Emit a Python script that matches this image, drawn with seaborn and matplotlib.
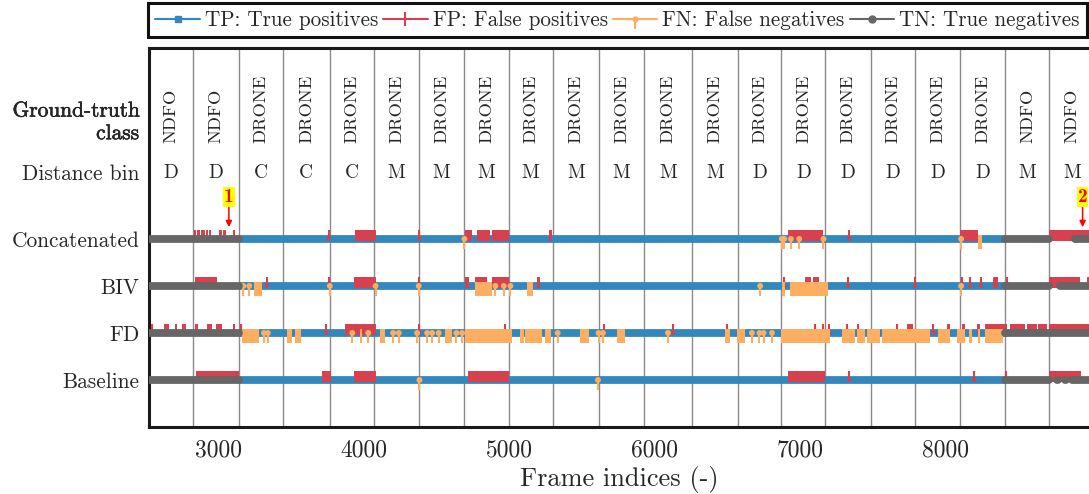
import matplotlib
matplotlib.use("Agg")
import matplotlib.pyplot as plt
import matplotlib.patheffects as pe
from matplotlib.lines import Line2D
from matplotlib.path import Path
import numpy as np
import pandas as pd
import seaborn as sns

# ---------------- data (frame indices) ----------------
SECTION_EDGES = [2525, 2830, 3143, 3445, 3768, 4070, 4379, 4693, 4997, 5299, 5618,
                 5929, 6259, 6570, 6872, 7174, 7486, 7790, 8099, 8411, 8713, 9025]
CLASSES = ["NDFO", "NDFO"] + ["DRONE"] * 17 + ["NDFO", "NDFO"]
BINS = ["D", "D", "C", "C", "C", "M", "M", "M", "M", "M", "M", "M", "M",
        "D", "D", "D", "D", "D", "D", "M", "M"]

ROW_NAMES = ["Concatenated", "BIV", "FD", "Baseline"]
ROW_POS = [4, 3, 2, 1]

X_TICKS = [3000, 4000, 5000, 6000, 7000, 8000]
X_LIMITS = [2525, 8986]

# true negatives (grey line segments)
concat_tn = [(2525, 3143), (8411, 8713), (8890, 9025)]
biv_tn = [(2525, 3143), (8411, 8713), (8787, 9025)]
fd_tn = [(2525, 3143), (8411, 9025)]
base_tn = [(2525, 3143), (8411, 8713), (8766, 8770), (8822, 8826), (8869, 9025)]

# false positives
concat_fp = [(2834, 2845), (2857, 2873), (2880, 2909), (2914, 2933), (2937, 2948),
             (3006, 3024), (3033, 3052), (3109, 3109), (3761, 3761), (3940, 4082),
             (4384, 4384), (4700, 4746), (4780, 4872), (4883, 4997), (5272, 5295),
             (6916, 7161), (7339, 7339), (8100, 8226), (8713, 8901), (8905, 8986)]
biv_fp = [(2841, 2995), (3333, 3333), (3761, 3761), (3933, 4082), (4379, 4379),
          (4700, 4722), (4769, 4849), (4883, 4997), (5192, 5215), (6893, 6893),
          (7035, 7074), (7088, 7131), (7329, 7329), (7790, 7790), (8112, 8112),
          (8169, 8169), (8242, 8242), (8328, 8363), (8420, 8420), (8713, 8924),
          (8970, 8986)]
fd_fp = [(2548, 2548), (2628, 2662), (2703, 2720), (2754, 2782), (2841, 2862),
         (2926, 2960), (2983, 3029), (3109, 3109), (3155, 3155), (3745, 3745),
         (3871, 4082), (4384, 4384), (4975, 4975), (5654, 5654), (6124, 6124),
         (6497, 6497), (7106, 7106), (7157, 7157), (7202, 7202), (7326, 7326),
         (7401, 7401), (7665, 7665), (7733, 7779), (7917, 7917), (8008, 8031),
         (8112, 8135), (8215, 8237), (8271, 8420), (8443, 8546), (8558, 8626),
         (8637, 8695), (8713, 8986)]
base_fp = [(2845, 3143), (3716, 3773), (3933, 4082), (4718, 4997), (6916, 7168),
           (7339, 7339), (8198, 8198), (8415, 8415), (8713, 8930)]

# false negatives
concat_fn = [(4693, 4693), (6875, 6875), (6891, 6891), (6937, 6937), (6994, 6994),
             (7161, 7161), (8107, 8107), (8226, 8250)]
biv_fn = [(3173, 3173), (3214, 3214), (3246, 3299), (3768, 3768), (4082, 4082),
          (4379, 4379), (4769, 4883), (4906, 4906), (4963, 4963), (5009, 5009),
          (5124, 5165), (6726, 6726), (6875, 6898), (6932, 7195), (8107, 8107)]
fd_fn = [(3161, 3280), (3315, 3315), (3342, 3342), (3475, 3510), (3527, 3567),
         (3922, 3922), (3972, 3990), (4032, 4032), (4116, 4150), (4203, 4203),
         (4242, 4242), (4368, 4368), (4437, 4437), (4471, 4471), (4516, 4516),
         (4562, 4609), (4638, 4638), (4677, 4677), (4700, 5021), (5078, 5100),
         (5112, 5227), (5249, 5288), (5334, 5334), (5485, 5547), (5615, 5615),
         (5645, 5645), (5742, 5799), (6092, 6092), (6486, 6520), (6566, 6623),
         (6669, 6669), (6721, 6721), (6749, 6749), (6807, 6807), (6868, 7207),
         (7287, 7379), (7390, 7448), (7459, 7549), (7562, 7894), (7950, 8031),
         (8077, 8135), (8158, 8181), (8226, 8237), (8271, 8397)]
base_fn = [(4384, 4384), (5611, 5611)]

ANNOT_LABELS = ["1", "2"]
ANNOT_FRAMES = [3074, 8942]

# ---------------- style ----------------
BLUE = "#3288bd"
RED = "#d6404f"
ORANGE = "#fdae61"
GREY = "#666666"

sns.set_theme(style="white")
plt.rcParams["font.family"] = ["cmr10", "DejaVu Serif"]
plt.rcParams["mathtext.fontset"] = "cm"
plt.rcParams["axes.formatter.use_mathtext"] = True
plt.rcParams["axes.unicode_minus"] = False

W, H = 1089, 494
fig = plt.figure(figsize=(W / 100, H / 100), dpi=100)
ax = fig.add_axes([149 / W, 67 / H, (W - 149) / W, (446 - 67) / H])
YTOP = 8.06

# section separators
ax.vlines(SECTION_EDGES[1:-1], 0, YTOP, colors="#8a8a8a", lw=1.0, zorder=1)

tn_rows = [concat_tn, biv_tn, fd_tn, base_tn]
fp_rows = [concat_fp, biv_fp, fd_fp, base_fp]
fn_rows = [concat_fn, biv_fn, fd_fn, base_fn]

LW = 5.6


def seg_df(segs, y, tag):
    recs = []
    for i, (a, b) in enumerate(segs):
        recs.append({"frame": a, "y": y, "seg": f"{tag}{y}_{i}"})
        recs.append({"frame": b, "y": y, "seg": f"{tag}{y}_{i}"})
    return pd.DataFrame(recs)


# true positive lines over DRONE sections
tp_segs = [(SECTION_EDGES[i], SECTION_EDGES[i + 1]) for i, c in enumerate(CLASSES) if c == "DRONE"]
tp_df = pd.concat([seg_df(tp_segs, y, "tp") for y in ROW_POS], ignore_index=True)
sns.lineplot(data=tp_df, x="frame", y="y", units="seg", estimator=None, sort=False,
             color=BLUE, lw=LW, solid_capstyle="butt", ax=ax, zorder=2, legend=False)

# true negative lines
tn_df = pd.concat([seg_df(s, y, "tn") for s, y in zip(tn_rows, ROW_POS)], ignore_index=True)
sns.lineplot(data=tn_df, x="frame", y="y", units="seg", estimator=None, sort=False,
             color=GREY, lw=LW, solid_capstyle="round", ax=ax, zorder=4, legend=False)


def split(intervals):
    singles = [a for a, b in intervals if b - a < 5]
    blocks = [(a, b) for a, b in intervals if b - a >= 5]
    return singles, blocks


for y, fps, fns in zip(ROW_POS, fp_rows, fn_rows):
    s, bl = split(fps)
    if bl:
        ax.bar(x=[a for a, b in bl], height=0.25, width=[b - a for a, b in bl],
               bottom=y - 0.05, align="edge", color=RED, linewidth=0, zorder=3)
    if s:
        ax.vlines(s, y, y + 0.2, colors=RED, lw=1.5, zorder=3)
        sns.scatterplot(x=s, y=[y] * len(s), s=9, color=RED, edgecolor="none",
                        ax=ax, zorder=3, legend=False)
    s, bl = split(fns)
    if bl:
        ax.bar(x=[a for a, b in bl], height=0.295, width=[b - a for a, b in bl],
               bottom=y - 0.21, align="edge", color=ORANGE, linewidth=0, zorder=3.5)
    if s:
        ax.vlines(s, y - 0.21, y, colors=ORANGE, lw=1.5, zorder=3.5)
        sns.scatterplot(x=s, y=[y] * len(s), s=18, color=ORANGE, edgecolor="none",
                        ax=ax, zorder=3.6, legend=False)

# header rows: class and distance bin
for i, (cls, b) in enumerate(zip(CLASSES, BINS)):
    mid = 0.5 * (SECTION_EDGES[i] + SECTION_EDGES[i + 1])
    ax.text(mid, 6.05, cls, rotation=90, ha="center", va="bottom", fontsize=13.3, zorder=5)
    ax.text(mid, 5.41, b, ha="center", va="center", fontsize=14, zorder=5)

# annotations
for lab, fr in zip(ANNOT_LABELS, ANNOT_FRAMES):
    ax.annotate(lab, xy=(fr, 4.25), xytext=(fr, 4.9), ha="center", va="center",
                color="red", fontsize=14, fontfamily="cmb10",
                arrowprops=dict(arrowstyle="-|>", color="red", lw=1.1, mutation_scale=9,
                                shrinkA=0, shrinkB=0),
                bbox=dict(boxstyle="square,pad=0.05", fc="yellow", ec="none"),
                zorder=6, annotation_clip=False)

# axes
ax.set_xlim(*X_LIMITS)
ax.set_ylim(0, YTOP)
ax.set_xticks(X_TICKS)
ax.set_xticklabels([str(t) for t in X_TICKS], fontsize=17)
ax.set_yticks([6.56, 5.41] + ROW_POS)
ylabels = ax.set_yticklabels(["Ground-truth\nclass", "Distance bin"] + ROW_NAMES, fontsize=15.4)
ylabels[0].set_path_effects([pe.withStroke(linewidth=0.35, foreground="black")])
ax.tick_params(axis="both", length=0)
ax.tick_params(axis="x", pad=9)
ax.tick_params(axis="y", pad=7)
ax.set_xlabel("Frame indices (-)", fontsize=19, labelpad=3)
ax.set_ylabel("")
for side in ["left", "bottom", "top"]:
    ax.spines[side].set_linewidth(2.2)
    ax.spines[side].set_color("#1a1a1a")
ax.spines["right"].set_visible(False)

# legend
stem_down = Path([(0, 0), (0, -1)])
handles = [
    Line2D([0], [0], color=BLUE, lw=1.5, marker="s", markersize=5),
    Line2D([0], [0], color=RED, lw=1.5, marker="|", markersize=10, markeredgewidth=1.5),
    (Line2D([0], [0], color=ORANGE, lw=1.5, marker=stem_down, markersize=14, markeredgewidth=1.5),
     Line2D([0], [0], ls="none", color=ORANGE, marker="o", markersize=3.5)),
    Line2D([0], [0], color=GREY, lw=1.5, marker="o", markersize=5),
]
labels = ["TP: True positives", "FP: False positives", "FN: False negatives", "TN: True negatives"]
leg = fig.legend(handles, labels, loc="upper left",
                 bbox_to_anchor=(148 / W, 1 - 3 / H, 939 / W, 0), mode="expand", ncol=4,
                 fontsize=15.2, handlelength=2.1, handletextpad=0.25, columnspacing=0.4,
                 borderpad=0.35, borderaxespad=0, frameon=True, fancybox=False,
                 edgecolor="#111111", framealpha=1)
leg.get_frame().set_linewidth(2.2)

fig.savefig("out.png", dpi=100)
